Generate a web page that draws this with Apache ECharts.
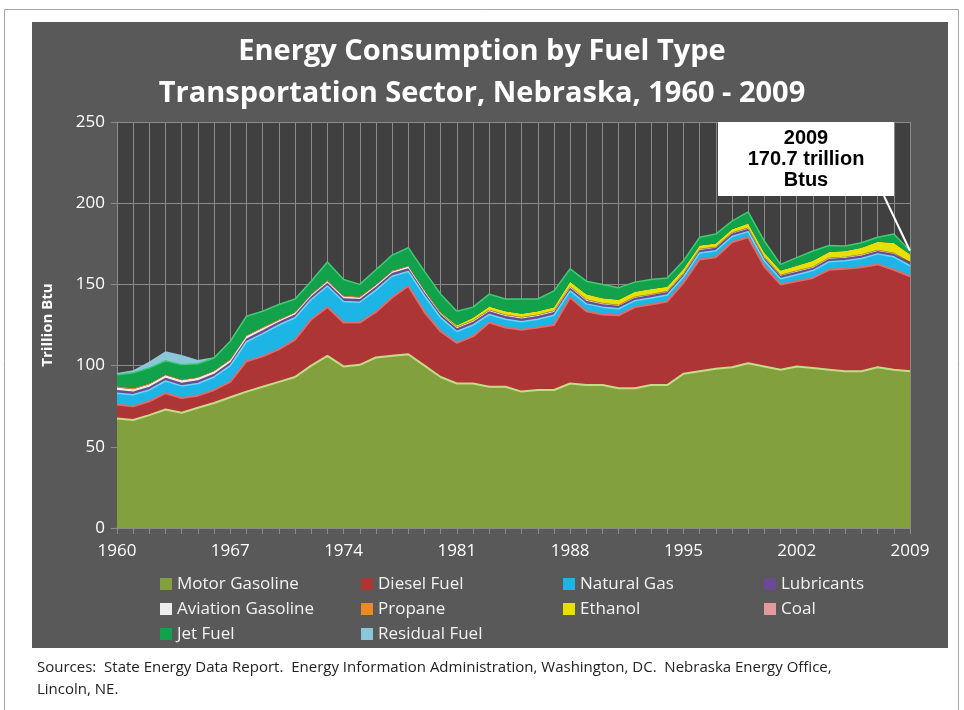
<!DOCTYPE html>
<html>
<head>
<meta charset="utf-8">
<title>Energy Consumption by Fuel Type - Transportation Sector, Nebraska</title>
<script src="https://cdn.jsdelivr.net/npm/echarts@6/dist/echarts.min.js"></script>
<style>
  html, body { margin: 0; padding: 0; background: #ffffff; }
  #chart { width: 964px; height: 710px; }
</style>
</head>
<body>
<div id="chart"></div>
<script>
// years 1960 - 2009
const years = [];
for (let y = 1960; y <= 2009; y++) years.push(String(y));

// trillion Btu
const motorGasoline = [67.5, 66.5, 69.5, 73, 71, 74, 77, 80.5, 84, 87,
    90, 93, 100, 106, 99.5, 100.5, 105, 106, 107, 100,
    93, 89, 89, 87, 87, 84, 85, 85, 89, 88,
    88, 86, 86, 88, 88, 95, 96.5, 98, 99, 101.5,
    99.5, 97.5, 99.5, 98.5, 97.5, 96.5, 96.5, 99, 97.5, 96.5];
const dieselFuel = [8.5, 8.5, 8.5, 10, 9, 7.5, 8, 9.5, 18.7, 18.7,
    20, 23, 28.4, 30, 27, 26, 28, 36, 42, 33,
    28, 25, 29, 39.5, 36.5, 38, 38.5, 40, 53, 45.5,
    43.5, 45, 50, 49.6, 51.5, 56, 68.9, 68.7, 77, 77.5,
    61.5, 52.5, 52.5, 55.5, 61.5, 63.1, 64, 63.3, 61.5, 58.5];
const naturalGas = [7, 7, 7, 7.5, 7.5, 7.5, 8, 10, 12, 14,
    15, 13.5, 12.3, 13, 13, 12.5, 13.5, 13, 9, 10,
    8.5, 7, 7, 5, 5, 5, 5, 6, 4, 4.5,
    4.5, 4, 4, 4, 4, 3.5, 4, 4, 3.5, 3.5,
    3.5, 3.5, 4, 4.5, 5, 5, 5.5, 6.5, 8, 6.5];
const lubricants = [2, 2, 2, 2, 2, 2, 2, 2, 2, 2,
    2, 2, 2, 2, 2, 2, 2, 2, 2, 2,
    2, 2, 2, 2, 2, 2, 2, 2, 2, 2,
    1.8, 1.8, 1.8, 1.8, 1.8, 1.8, 1.8, 1.8, 1.8, 1.8,
    1.8, 1.8, 1.8, 1.8, 1.8, 1.8, 1.8, 1.8, 1.8, 1.8];
const aviationGasoline = [1.5, 1.5, 1.5, 1.5, 1.5, 1.5, 1.5, 1.5, 1.5, 1.5,
    1, 1, 1, 1, 1, 1, 1, 1, 1, 1,
    0.6, 0.6, 0.6, 0.6, 0.6, 0.6, 0.6, 0.6, 0.6, 0.6,
    0.4, 0.4, 0.4, 0.4, 0.4, 0.4, 0.4, 0.4, 0.4, 0.4,
    0.4, 0.4, 0.4, 0.4, 0.4, 0.4, 0.4, 0.4, 0.4, 0.4];
const propane = [0.5, 0.5, 0.5, 0.5, 0.5, 0.5, 0.5, 0.5, 0.5, 0.5,
    0.5, 0.5, 0.5, 0.5, 0.5, 0.5, 0.5, 0.5, 0.5, 0.5,
    0.3, 0.3, 0.3, 0.3, 0.3, 0.3, 0.3, 0.3, 0.3, 0.3,
    0.3, 0.3, 0.3, 0.3, 0.3, 0.3, 0.3, 0.3, 0.3, 0.3,
    0.3, 0.3, 0.3, 0.3, 0.3, 0.3, 0.3, 0.3, 0.3, 0.3];
const ethanol = [0, 0, 0, 0, 0, 0, 0, 0, 0, 0,
    0, 0, 0, 0, 0, 0, 0, 0, 0, 0,
    0.5, 1, 1.5, 2, 2, 2, 2, 2, 2.7, 3,
    3, 3, 3, 3, 2.5, 2.5, 2, 2, 2, 2.5,
    2.5, 2.5, 3, 3.5, 3.5, 3.5, 4, 5, 6, 4.5];
const coal = [0.3, 0.2, 0.1, 0, 0, 0, 0, 0, 0, 0,
    0, 0, 0, 0, 0, 0, 0, 0, 0, 0,
    0, 0, 0, 0, 0, 0, 0, 0, 0, 0,
    0, 0, 0, 0, 0, 0, 0, 0, 0, 0,
    0, 0, 0, 0, 0, 0, 0, 0, 0, 0];
const jetFuel = [7.1, 9.4, 9.5, 8.5, 9.1, 8.1, 7.7, 11, 11.7, 9.8,
    9.1, 8, 7.8, 11.3, 10, 7.5, 9, 9.5, 11.1, 11.5,
    11.1, 8.6, 6.6, 7.6, 7.6, 9.1, 7.6, 10.1, 8, 8.1,
    8.5, 7.5, 5.9, 5.9, 5.5, 5, 5.1, 5.8, 5, 7.1,
    7.2, 3.8, 5, 6.1, 4, 3, 3.2, 2.7, 5.5, 2.2];
const residualFuel = [1, 1.5, 4, 5.8, 6, 2.4, 0.5, 0.3, 0.2, 0.1,
    0, 0, 0, 0, 0, 0, 0, 0, 0, 0,
    0, 0, 0, 0, 0, 0, 0, 0, 0, 0,
    0, 0, 0, 0, 0, 0, 0, 0, 0, 0,
    0, 0, 0, 0, 0, 0, 0, 0, 0, 0];

const fuels = [
    { name: 'Motor Gasoline', data: motorGasoline, color: '#83A03F', edge: '#C4DC86', w: 2 },
    { name: 'Diesel Fuel', data: dieselFuel, color: '#AE3535', edge: '#DE6C6C', w: 2 },
    { name: 'Natural Gas', data: naturalGas, color: '#1CB5E6', edge: '#6FD8F6', w: 1.5 },
    { name: 'Lubricants', data: lubricants, color: '#6A4B93', edge: '#6A4B93', w: 0 },
    { name: 'Aviation Gasoline', data: aviationGasoline, color: '#EDEDED', edge: '#EDEDED', w: 0 },
    { name: 'Propane', data: propane, color: '#EE8A22', edge: '#EE8A22', w: 0 },
    { name: 'Ethanol', data: ethanol, color: '#E8E000', edge: '#E8E000', w: 0 },
    { name: 'Coal', data: coal, color: '#E29A9A', edge: '#E29A9A', w: 0 },
    { name: 'Jet Fuel', data: jetFuel, color: '#12A24C', edge: '#3FCB74', w: 1.5 },
    { name: 'Residual Fuel', data: residualFuel, color: '#8CC6DA', edge: '#8CC6DA', w: 0 }
];

const chart = echarts.init(document.getElementById('chart'));

const legendBase = {
    orient: 'vertical',
    top: 569,
    itemWidth: 12,
    itemHeight: 12,
    itemGap: 5,
    icon: 'rect',
    selectedMode: false,
    textStyle: { color: '#F2F2F2', fontSize: 17, fontFamily: 'Open Sans', lineHeight: 20 }
};

chart.setOption({
    animation: false,
    title: {
        text: 'Energy Consumption by Fuel Type\nTransportation Sector, Nebraska, 1960 - 2009',
        left: 'center',
        top: 26,
        textStyle: { color: '#FFFFFF', fontSize: 29, fontWeight: 'bold', fontFamily: 'Open Sans', lineHeight: 42 }
    },
    legend: [
        Object.assign({}, legendBase, { left: 155, data: ['Motor Gasoline', 'Aviation Gasoline', 'Jet Fuel'] }),
        Object.assign({}, legendBase, { left: 356, data: ['Diesel Fuel', 'Propane', 'Residual Fuel'] }),
        Object.assign({}, legendBase, { left: 558, data: ['Natural Gas', 'Ethanol'] }),
        Object.assign({}, legendBase, { left: 759, data: ['Lubricants', 'Coal'] })
    ],
    grid: {
        left: 117, top: 122, right: 54, bottom: 182,
        show: true, backgroundColor: '#404040', borderWidth: 0
    },
    xAxis: {
        type: 'category',
        data: years,
        boundaryGap: false,
        axisLine: { lineStyle: { color: '#8C8C8C', width: 1.5 } },
        axisTick: { interval: 0, length: 6, lineStyle: { color: '#8C8C8C' } },
        axisLabel: { interval: 6, color: '#FFFFFF', fontSize: 17, fontFamily: 'Open Sans', margin: 15 },
        splitLine: { show: true, interval: 0, lineStyle: { color: '#8A8A8A', width: 1 } }
    },
    yAxis: {
        type: 'value',
        min: 0, max: 250, interval: 50,
        name: 'Trillion Btu',
        nameLocation: 'middle',
        nameRotate: 90,
        nameGap: 62,
        nameTextStyle: { color: '#FFFFFF', fontSize: 15, fontWeight: 'bold', fontFamily: 'Open Sans' },
        axisLine: { show: true, lineStyle: { color: '#8C8C8C' } },
        axisTick: { show: true, length: 6, lineStyle: { color: '#8C8C8C' } },
        axisLabel: { color: '#FFFFFF', fontSize: 17, fontFamily: 'Open Sans', margin: 12 },
        splitLine: { lineStyle: { color: '#8A8A8A', width: 1 } }
    },
    series: fuels.map(f => ({
        name: f.name,
        type: 'line',
        stack: 'total',
        data: f.data,
        showSymbol: false,
        symbol: 'none',
        color: f.color,
        lineStyle: { color: f.edge, width: f.w },
        areaStyle: { color: f.color, opacity: 1 },
        emphasis: { disabled: true }
    }))
});

// callout box and pointer to the 2009 total
const total2009 = fuels.reduce((s, f) => s + f.data[f.data.length - 1], 0);
const tip = chart.convertToPixel({ gridIndex: 0 }, ['2009', total2009]);

chart.setOption({
    graphic: [
        {
            type: 'rect', z: -10, silent: true,
            shape: { x: 4.5, y: 9.5, width: 954, height: 720 },
            style: { fill: '#FFFFFF', stroke: '#A6A6A6', lineWidth: 1 }
        },
        {
            type: 'rect', z: -9, silent: true,
            shape: { x: 32, y: 22, width: 916, height: 626 },
            style: { fill: '#595959' }
        },
        {
            type: 'line', z: 100, silent: true,
            shape: { x1: 884, y1: 196, x2: tip[0], y2: tip[1] },
            style: { stroke: '#FFFFFF', lineWidth: 2 }
        },
        {
            type: 'rect', z: 100, silent: true,
            shape: { x: 718, y: 122, width: 176, height: 74 },
            style: { fill: '#FFFFFF' }
        },
        {
            type: 'text', z: 101, silent: true,
            x: 806, y: 159,
            style: {
                text: '2009\n' + total2009.toFixed(1) + ' trillion\nBtus',
                fill: '#000000',
                font: 'bold 20px "Liberation Sans", Arial, sans-serif',
                lineHeight: 21,
                align: 'center',
                verticalAlign: 'middle'
            }
        },
        {
            type: 'text', silent: true,
            x: 37, y: 657,
            style: {
                text: 'Sources:  State Energy Data Report.  Energy Information Administration, Washington, DC.  Nebraska Energy Office,\nLincoln, NE.',
                fill: '#222222',
                font: '15px "Open Sans", sans-serif',
                lineHeight: 22,
                verticalAlign: 'top'
            }
        }
    ]
});
</script>
</body>
</html>
